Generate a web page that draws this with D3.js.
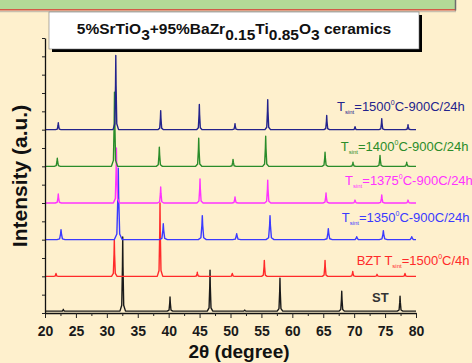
<!DOCTYPE html>
<html>
<head>
<meta charset="utf-8">
<script src="https://cdn.jsdelivr.net/npm/d3@7"></script>
<style>
  html, body { margin: 0; padding: 0; background: #fef0cd; }
  svg { display: block; font-family: "Liberation Sans", Arial, sans-serif; }
</style>
</head>
<body>
<div id="chart"></div>
<script>
// tick labels
const xTickLabels = [20, 25, 30, 35, 40, 45, 50, 55, 60, 65, 70, 75, 80];
const xMinorTicks = [22.5, 27.5, 32.5, 37.5, 42.5, 47.5, 52.5, 57.5, 62.5, 67.5, 72.5, 77.5];
const yTicks = [0, 1, 2, 3, 4, 5, 6, 7, 8, 9, 10, 11, 12, 13, 14, 15];

// series, bottom to top
const seriesNames = ['ST', 'BZT 1500C/4h', '1350C-900C/24h', '1375C-900C/24h', '1400C-900C/24h', '1500C-900C/24h'];
const seriesOffsets = [0.1, 2, 4, 6, 8, 10];

// peaks: [2theta, intensity a.u.]
const peaksST = [[22.96, 0.1], [32.57, 4.05], [40.22, 0.77], [46.69, 2.24], [52.3, 0.06], [58.0, 1.8], [67.99, 1.09], [77.42, 0.82]];
const peaksBZT = [[21.78, 0.16], [31.21, 2.0], [38.6, 4.0], [44.63, 0.22], [50.29, 0.16], [55.47, 0.87], [65.29, 0.87], [69.77, 0.27], [73.7, 0.11], [78.22, 0.16]];
const peaks1350 = [[22.59, 0.55], [31.85, 3.9], [39.13, 0.87], [45.44, 1.31], [51.0, 0.33], [56.39, 1.31], [65.82, 0.6], [70.41, 0.16], [74.72, 0.49], [79.31, 0.16]];
const peaks1375 = [[22.15, 0.49], [31.55, 3.0], [38.71, 0.87], [45.07, 1.31], [50.73, 0.33], [56.02, 1.25], [65.45, 0.55], [70.14, 0.16], [74.46, 0.44], [78.71, 0.16]];
const peaks1400 = [[21.99, 0.44], [31.24, 4.05], [38.49, 1.04], [44.86, 1.53], [50.41, 0.38], [55.69, 1.64], [65.29, 0.77], [69.81, 0.22], [74.18, 0.6], [78.5, 0.22]];
const peaks1500 = [[22.15, 0.38], [31.45, 4.05], [38.71, 1.04], [44.96, 1.37], [50.73, 0.33], [56.02, 1.64], [65.56, 0.77], [70.14, 0.16], [74.46, 0.6], [78.71, 0.27]];
const allPeaks = [peaksST, peaksBZT, peaks1350, peaks1375, peaks1400, peaks1500];

const colors = ['#1a1a1a', '#ff2a2a', '#3a3aff', '#ff33ff', '#2a8c2a', '#23238c'];
const peakWidths = [0.45, 0.45, 0.65, 0.5, 0.5, 0.45];

// label pieces: prefix, subscript, value, superscript, suffix
const labelPrefix = ['ST', 'BZT T', 'T', 'T', 'T', 'T'];
const labelSub = ['', 'sint', 'sint', 'sint', 'sint', 'sint'];
const labelValue = ['', '=1500', '=1350', '=1375', '=1400', '=1500'];
const labelSup = ['', '0', '0', '0', '0', '0'];
const labelSuffix = ['', 'C/4h', 'C-900C/24h', 'C-900C/24h', 'C-900C/24h', 'C-900C/24h'];

const W = 472, H = 363;
const labelPos = [[372, 302], [356.7, 265], [341.7, 222], [345, 185], [340.7, 150.5], [337, 111]];

const svg = d3.select('#chart').append('svg')
  .attr('width', W).attr('height', H);

svg.append('rect').attr('width', W).attr('height', H).attr('fill', '#fef0cd');

// header strip cut off at top
svg.append('line').attr('x1', 0).attr('x2', 456).attr('y1', 11.5).attr('y2', 11.5)
  .attr('stroke', '#c8bfae').attr('stroke-width', 1.5);
svg.append('rect').attr('x', -2).attr('y', -2).attr('width', 457).attr('height', 11)
  .attr('fill', '#b3da97');
svg.append('line').attr('x1', 0).attr('x2', 456).attr('y1', 9.8).attr('y2', 9.8)
  .attr('stroke', '#d35a48').attr('stroke-width', 1.4);
svg.append('line').attr('x1', 455.5).attr('x2', 455.5).attr('y1', 0).attr('y2', 10.5)
  .attr('stroke', '#6d6d6d').attr('stroke-width', 1.5);

const x = d3.scaleLinear().domain([20, 80]).range([45, 416]);
const y = d3.scaleLinear().domain([0, 15]).range([313, 38]);

// build each pattern from its peaks
function patternPoints(peaks, off, w) {
  const pts = [[20, off]];
  peaks.forEach(p => {
    const c = p[0], h = p[1];
    pts.push([c - w, off], [c - w * 0.35, off + h * 0.08], [c - w * 0.1, off + h * 0.6], [c, off + h],
             [c + w * 0.1, off + h * 0.6], [c + w * 0.35, off + h * 0.08], [c + w, off]);
  });
  pts.push([80, off]);
  return pts;
}

const line = d3.line()
  .x(d => x(d[0]))
  .y(d => y(d[1]));

allPeaks.forEach((peaks, i) => {
  svg.append('path')
    .datum(patternPoints(peaks, seriesOffsets[i], peakWidths[i]))
    .attr('class', 'pattern')
    .attr('fill', 'none')
    .attr('stroke', colors[i])
    .attr('stroke-width', 1.4)
    .attr('stroke-linejoin', 'round')
    .attr('d', line);
});

// axes
const xAxis = svg.append('g')
  .attr('transform', `translate(0, ${y(0)})`)
  .call(d3.axisBottom(x).tickValues(xTickLabels).tickSize(5).tickPadding(8).tickSizeOuter(0));
xAxis.selectAll('text')
  .attr('font-size', 14).attr('font-weight', 'bold').attr('fill', '#1a1a1a')
  .attr('font-family', '"Liberation Sans", Arial, sans-serif');
svg.append('g')
  .attr('transform', `translate(0, ${y(0)})`)
  .call(d3.axisBottom(x).tickValues(xMinorTicks).tickSize(3).tickFormat('').tickSizeOuter(0))
  .select('.domain').remove();

const yAxis = svg.append('g')
  .attr('transform', `translate(${x(20)}, 0)`)
  .call(d3.axisLeft(y).tickValues(yTicks).tickSize(3).tickFormat('').tickSizeOuter(0));

svg.selectAll('.domain').attr('stroke', '#111').attr('stroke-width', 1.3);
svg.selectAll('.tick line').attr('stroke', '#222');

// series labels
seriesNames.forEach((name, i) => {
  const t = svg.append('text')
    .attr('x', labelPos[i][0]).attr('y', labelPos[i][1])
    .attr('fill', colors[i])
    .attr('font-size', i === 0 ? 13 : 13)
    .attr('font-weight', i === 0 ? 'bold' : 'normal');
  if (i === 0) t.attr('fill', '#333');
  t.append('tspan').text(labelPrefix[i]);
  if (labelSub[i]) {
    t.append('tspan').attr('font-size', 6).attr('dy', 3).text(labelSub[i]);
    t.append('tspan').attr('dy', -3).text(labelValue[i]);
    t.append('tspan').attr('font-size', 7).attr('dy', -6).text(labelSup[i]);
    t.append('tspan').attr('dy', 6).text(labelSuffix[i]);
  }
});

// title box
svg.append('rect').attr('x', 52).attr('y', 15).attr('width', 370).attr('height', 37).attr('fill', '#000');
svg.append('rect').attr('x', 49).attr('y', 12).attr('width', 370).attr('height', 37)
  .attr('fill', '#fff').attr('stroke', '#777').attr('stroke-width', 0.6);
const title = svg.append('text').attr('x', 234).attr('y', 33.5)
  .attr('text-anchor', 'middle').attr('font-size', 15.5).attr('font-weight', 'bold').attr('fill', '#111');
[['5%SrTiO', 0], ['3', 1], ['+95%BaZr', 0], ['0.15', 1], ['Ti', 0], ['0.85', 1], ['O', 0], ['3', 1], [' ceramics', 0]]
  .forEach((p, k, arr) => {
    const prev = k > 0 ? arr[k - 1][1] : 0;
    title.append('tspan').attr('dy', (p[1] - prev) * 6).text(p[0]);
  });

// axis titles
svg.append('text').attr('x', 239).attr('y', 358)
  .attr('text-anchor', 'middle').attr('font-size', 19).attr('font-weight', 'bold').attr('fill', '#111')
  .text('2\u03b8 (degree)');
svg.append('text')
  .attr('transform', 'translate(27, 176) rotate(-90)')
  .attr('text-anchor', 'middle').attr('font-size', 21).attr('font-weight', 'bold').attr('fill', '#111')
  .text('Intensity (a.u.)');
</script>
</body>
</html>
